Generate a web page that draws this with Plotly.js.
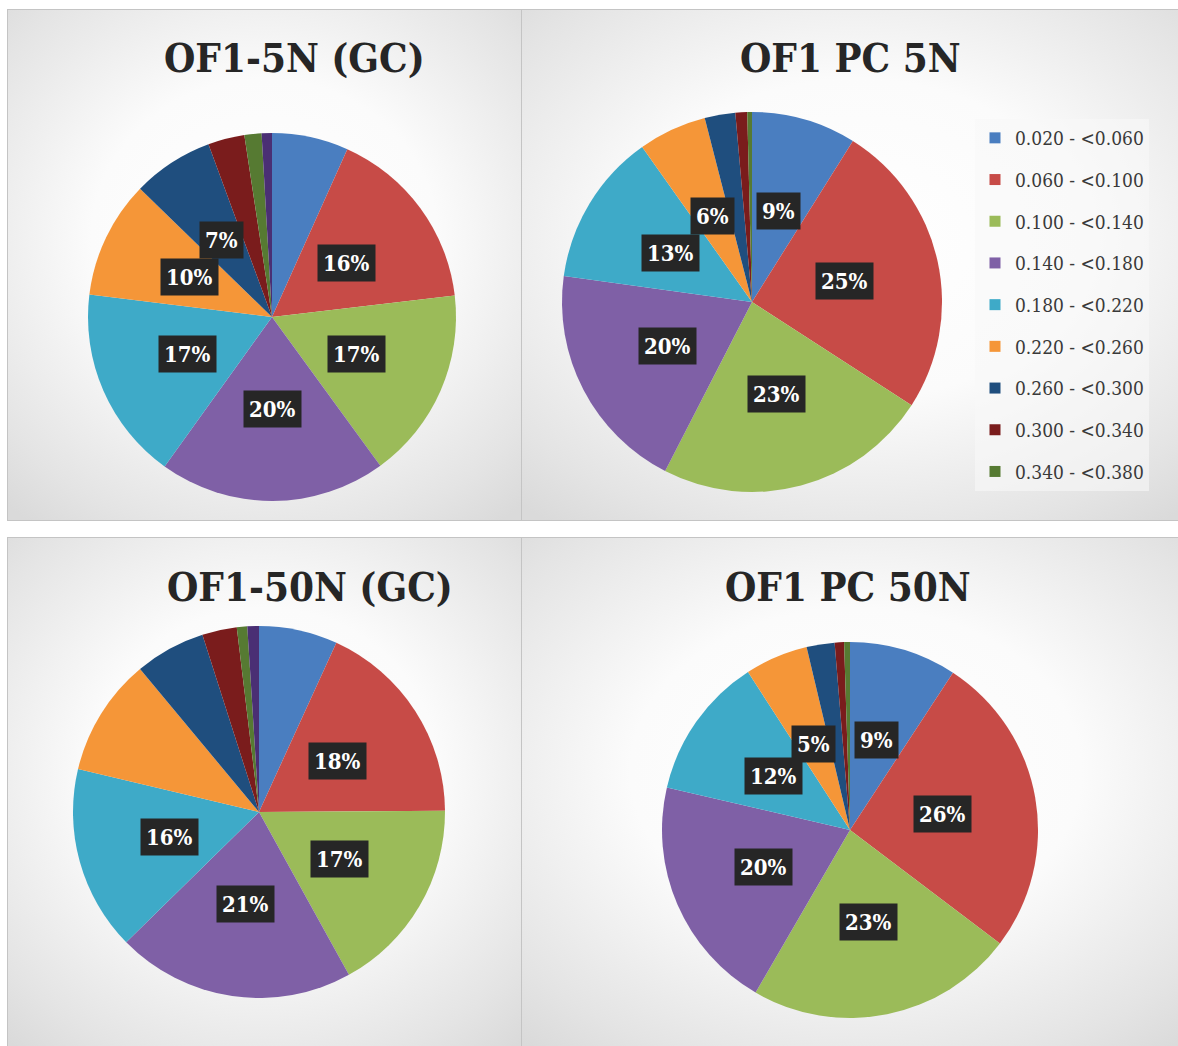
<!DOCTYPE html>
<html>
<head>
<meta charset="utf-8">
<script src="https://cdn.plot.ly/plotly-3.0.1.min.js"></script>
<style>
  html, body { margin: 0; padding: 0; background: #ffffff; }
  #wrap { position: relative; width: 1178px; height: 1046px; overflow: hidden; }
  .panel { position: absolute; box-sizing: border-box; border: 1px solid #c4c4c4; }
  #chart { position: absolute; left: 0; top: 0; width: 1178px; height: 1046px; }
</style>
</head>
<body>
<div id="wrap">
  <div class="panel" id="p1" style="left:7px; top:9px; width:515px; height:512px;"></div>
  <div class="panel" id="p2" style="left:521px; top:9px; width:670px; height:512px;"></div>
  <div class="panel" id="p3" style="left:7px; top:537px; width:515px; height:520px;"></div>
  <div class="panel" id="p4" style="left:521px; top:537px; width:670px; height:520px;"></div>
  <div id="chart"></div>
</div>
<script>
// ---------------- DATA ----------------
const categories = ["0.020 - <0.060", "0.060 - <0.100", "0.100 - <0.140", "0.140 - <0.180",
                    "0.180 - <0.220", "0.220 - <0.260", "0.260 - <0.300", "0.300 - <0.340",
                    "0.340 - <0.380", "0.380 - <0.420"];
const chartTitles = ["OF1-5N (GC)", "OF1 PC 5N", "OF1-50N (GC)", "OF1 PC 50N"];

// share of each class (%)
const of1_5N_GC  = [6.7, 16.4, 16.8, 19.9, 17.0, 10.3, 7.1, 3.2, 1.5, 0.9];
const of1_PC_5N  = [8.9, 25.2, 23.4, 19.6, 13.0, 5.8, 2.6, 1.0, 0.4];
const of1_50N_GC = [6.8, 18.0, 17.0, 20.6, 16.0, 10.2, 6.1, 3.0, 0.9, 1.0];
const of1_PC_50N = [9.2, 26.0, 23.0, 20.2, 12.2, 5.4, 2.4, 0.8, 0.5];

// which slices carry a data label in the original
const labels_5N_GC  = [false, true, true, true, true, true, true, false, false, false];
const labels_PC_5N  = [true, true, true, true, true, true, false, false, false];
const labels_50N_GC = [false, true, true, true, true, false, false, false, false, false];
const labels_PC_50N = [true, true, true, true, true, true, false, false, false];

// ---------------- STYLE ----------------
const colors = ["#4a7ec0", "#c74b47", "#9bbb59", "#7f60a6", "#3eaac8", "#f59638",
                "#1f4e7e", "#7a1c1c", "#567a32", "#4a2f74"];

const W = 1178, H = 1046;
// pie geometry in pixels (centre and radius)
const geom = [
  {cx: 272, cy: 317, r: 184},
  {cx: 752, cy: 302, r: 190},
  {cx: 259, cy: 812, r: 186},
  {cx: 850, cy: 830, r: 188}
];
const titlePos = [
  {x: 294, y: 58},
  {x: 850, y: 58},
  {x: 310, y: 586},
  {x: 848, y: 586}
];

const series = [of1_5N_GC, of1_PC_5N, of1_50N_GC, of1_PC_50N];
const showLab = [labels_5N_GC, labels_PC_5N, labels_50N_GC, labels_PC_50N];

const serif = "'DejaVu Serif Condensed', 'DejaVu Serif', serif";

const traces = [];
const annotations = [];

series.forEach(function (vals, i) {
  const g = geom[i];
  traces.push({
    type: 'pie',
    name: chartTitles[i],
    labels: categories.slice(0, vals.length),
    values: vals,
    sort: false,
    direction: 'clockwise',
    rotation: 0,
    textinfo: 'none',
    showlegend: false,
    marker: { colors: colors.slice(0, vals.length), line: { width: 0 } },
    domain: {
      x: [(g.cx - g.r) / W, (g.cx + g.r) / W],
      y: [1 - (g.cy + g.r) / H, 1 - (g.cy - g.r) / H]
    },
    hovertemplate: '%{label}<br>%{percent}<extra>' + chartTitles[i] + '</extra>'
  });

  // data labels: dark boxes at mid-angle, half radius
  const total = vals.reduce((a, b) => a + b, 0);
  let cum = 0;
  vals.forEach(function (v, k) {
    const mid = (cum + v / 2) / total;
    cum += v;
    if (!showLab[i][k]) return;
    const th = 2 * Math.PI * mid;
    const px = g.cx + 0.5 * g.r * Math.sin(th);
    const py = g.cy - 0.5 * g.r * Math.cos(th);
    annotations.push({
      xref: 'paper', yref: 'paper',
      x: px / W, y: 1 - py / H,
      xanchor: 'center', yanchor: 'middle',
      text: '<b>' + Math.round(v / total * 100) + '%</b>',
      showarrow: false,
      font: { family: serif, size: 22, color: '#ffffff' },
      bgcolor: '#262626',
      borderpad: 5
    });
  });

  annotations.push({
    xref: 'paper', yref: 'paper',
    x: titlePos[i].x / W, y: 1 - titlePos[i].y / H,
    xanchor: 'center', yanchor: 'middle',
    text: '<b>' + chartTitles[i] + '</b>',
    showarrow: false,
    font: { family: serif, size: 40, color: '#262626' }
  });
});

// legend entries (the PC 5N chart carries the legend of nine classes)
categories.slice(0, 9).forEach(function (c, k) {
  traces.push({
    type: 'scatter', mode: 'markers',
    x: [null], y: [null],
    name: c,
    legendgroup: 'g' + k,
    showlegend: true,
    marker: { symbol: 'square', size: 11, color: colors[k] },
    hoverinfo: 'skip'
  });
});

const layout = {
  width: W, height: H,
  margin: { l: 0, r: 0, t: 0, b: 0 },
  paper_bgcolor: 'rgba(0,0,0,0)',
  plot_bgcolor: 'rgba(0,0,0,0)',
  xaxis: { visible: false, domain: [0.999, 1] },
  yaxis: { visible: false, domain: [0.999, 1] },
  showlegend: true,
  legend: {
    x: 975 / W, y: 1 - 119 / H,
    xanchor: 'left', yanchor: 'top',
    traceorder: 'grouped',
    tracegroupgap: 14,
    bgcolor: 'rgba(248,248,248,0.6)',
    font: { family: serif, size: 19, color: '#3a3a3a' }
  },
  annotations: annotations
};

Plotly.newPlot('chart', traces, layout, { displayModeBar: false, staticPlot: false });

// soft panel backgrounds
const bg = 'radial-gradient(ellipse 75% 70% at 50% 45%, #ffffff 0%, #fbfbfb 45%, #e4e4e4 85%, #dadada 100%)';
['p1','p2','p3','p4'].forEach(function (id) { document.getElementById(id).style.background = bg; });
</script>
</body>
</html>
